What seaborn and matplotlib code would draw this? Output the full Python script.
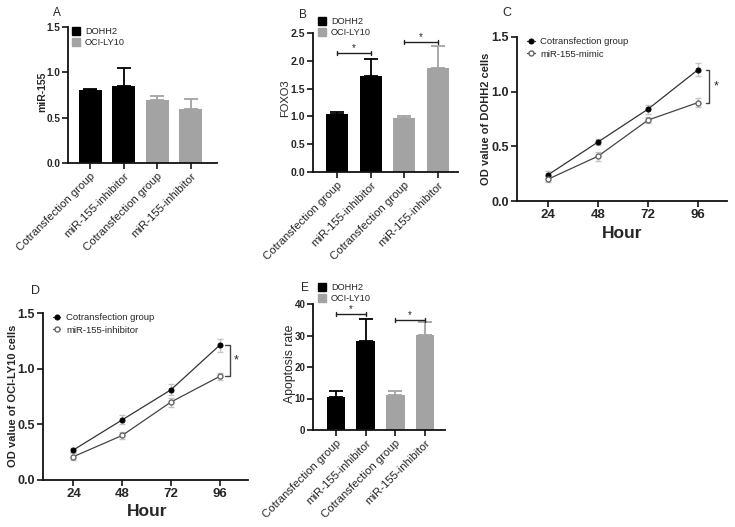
import matplotlib
matplotlib.use("Agg")
import pandas as pd
import matplotlib.pyplot as plt
import seaborn as sns
from matplotlib.patches import Patch

W, H = 735, 527

# ---- data ----
groups = ["Cotransfection group", "miR-155-inhibitor", "Cotransfection group", "miR-155-inhibitor"]
cells = ["DOHH2", "DOHH2", "OCI-LY10", "OCI-LY10"]

mir155_mean = [0.80, 0.85, 0.69, 0.60]
mir155_err = [0.02, 0.20, 0.05, 0.11]

foxo3_mean = [1.04, 1.73, 0.98, 1.87]
foxo3_err = [0.04, 0.31, 0.03, 0.39]

apop_mean = [10.5, 28.2, 11.2, 30.3]
apop_err = [1.9, 7.0, 1.1, 3.9]

hours = [24, 48, 72, 96]
c_cotrans = [0.24, 0.54, 0.84, 1.20]
c_cotrans_err = [0.03, 0.03, 0.04, 0.06]
c_mimic = [0.20, 0.41, 0.74, 0.90]
c_mimic_err = [0.03, 0.04, 0.03, 0.04]

d_cotrans = [0.27, 0.54, 0.81, 1.21]
d_cotrans_err = [0.02, 0.04, 0.05, 0.06]
d_inhib = [0.21, 0.40, 0.70, 0.93]
d_inhib_err = [0.03, 0.03, 0.04, 0.03]

BLACK = "#000000"
GRAY = "#a3a3a3"
palette = {"DOHH2": BLACK, "OCI-LY10": GRAY}

sns.set_style("ticks")
plt.rcParams["font.family"] = ["Liberation Sans", "DejaVu Sans"]
plt.rcParams["axes.linewidth"] = 1.3
plt.rcParams["xtick.major.width"] = 1.3
plt.rcParams["ytick.major.width"] = 1.3
plt.rcParams["xtick.major.size"] = 4
plt.rcParams["ytick.major.size"] = 4
plt.rcParams["axes.edgecolor"] = "#111111"

fig = plt.figure(figsize=(W / 100, H / 100), dpi=100)


def box(l, t, r, b):
    return [l / W, 1 - b / H, (r - l) / W, (b - t) / H]


def ftext(x, y, s, **kw):
    fig.text(x / W, 1 - y / H, s, **kw)


def bar_panel(ax, means, errs, ylim, yticks, fmt, width, xlim, tsize):
    df = pd.DataFrame({"slot": [f"{c} {g}" for c, g in zip(cells, groups)],
                       "value": means, "cell": cells})
    sns.barplot(data=df, x="slot", y="value", hue="cell", palette=palette,
                dodge=False, width=width, errorbar=None, saturation=1,
                linewidth=0, legend=False, ax=ax)
    for i, (m, e, c) in enumerate(zip(means, errs, cells)):
        ax.errorbar(i, m, yerr=[[0], [e]], fmt="none", ecolor=palette[c],
                    elinewidth=1.3, capsize=5, capthick=1.3, zorder=1)
    ax.set_xlim(*xlim)
    ax.set_ylim(*ylim)
    ax.set_xlabel("")
    ax.set_ylabel("")
    sns.despine(ax=ax)
    ax.set_yticks(yticks)
    ax.set_yticklabels([fmt.format(v) for v in yticks], fontsize=tsize,
                       fontweight="bold")
    ax.set_xticks(range(4))
    ax.set_xticklabels(groups, rotation=45, ha="right", rotation_mode="anchor",
                       fontsize=8.2, fontweight="normal")
    ax.tick_params(axis="both", pad=1.5)


def hbracket(ax, x1, x2, y, h):
    ax.plot([x1, x1], [y - h, y + h], color="#222222", lw=1)
    ax.plot([x2, x2], [y - h, y + h], color="#222222", lw=1)
    ax.plot([x1, x2], [y, y], color="#222222", lw=1)
    ax.text((x1 + x2) / 2, y, "*", ha="center", va="bottom", fontsize=7)


def vbracket(ax, x, y1, y2, dx):
    ax.plot([x - dx, x, x, x - dx], [y1, y1, y2, y2], color="#444444", lw=1,
            clip_on=False)
    ax.text(x + 3.2, (y1 + y2) / 2, "*", ha="center", va="center", fontsize=9)


def bar_legend(ax, x, y):
    handles = [Patch(color=BLACK, label="DOHH2"), Patch(color=GRAY, label="OCI-LY10")]
    ax.legend(handles=handles, loc="upper left", bbox_to_anchor=(x / W, 1 - y / H),
              bbox_transform=fig.transFigure, frameon=False, fontsize=6.6,
              handlelength=0.9, handleheight=0.9, handletextpad=0.5,
              labelspacing=0.25, borderaxespad=0, borderpad=0)


def line_panel(ax, s1, e1, s2, e2, name2):
    ax.errorbar(hours, s1, yerr=e1, fmt="none", ecolor="#c4c4c4", elinewidth=1,
                capsize=2.5, zorder=1)
    ax.errorbar(hours, s2, yerr=e2, fmt="none", ecolor="#c4c4c4", elinewidth=1,
                capsize=2.5, zorder=1)
    d1 = pd.DataFrame({"Hour": hours, "OD": s1})
    d2 = pd.DataFrame({"Hour": hours, "OD": s2})
    sns.lineplot(data=d1, x="Hour", y="OD", color="#333333", lw=0.9, marker="o",
                 markersize=3.6, markerfacecolor=BLACK, markeredgecolor=BLACK,
                 label="Cotransfection group", ax=ax, zorder=3)
    sns.lineplot(data=d2, x="Hour", y="OD", color="#444444", lw=0.9, marker="o",
                 markersize=3.6, markerfacecolor="white", markeredgecolor="#666666",
                 markeredgewidth=1, label=name2, ax=ax, zorder=3)
    ax.set_xlim(9, 110)
    ax.set_ylim(0, 1.5)
    ax.set_xlabel("")
    ax.set_ylabel("")
    sns.despine(ax=ax)
    ax.set_xticks(hours)
    ax.set_xticklabels([str(h) for h in hours], fontsize=9.5, fontweight="bold")
    ax.set_yticks([0, 0.5, 1.0, 1.5])
    ax.set_yticklabels(["0.0", "0.5", "1.0", "1.5"], fontsize=9, fontweight="bold")
    ax.tick_params(axis="both", pad=2)
    ax.legend(loc="upper left", bbox_to_anchor=(0.03, 1.02), frameon=False,
              fontsize=6.8, handlelength=0.8, handletextpad=0.6, labelspacing=0.35,
              borderaxespad=0)


# ---- A ----
axA = fig.add_axes(box(68, 27, 217, 163))
bar_panel(axA, mir155_mean, mir155_err, (0, 1.5), [0, 0.5, 1.0, 1.5], "{:.1f}",
          0.69, (-0.66, 3.79), 7.2)
bar_legend(axA, 72, 27)
ftext(57, 13, "A", fontsize=8.5, ha="center", va="center")
ftext(42, 92, "miR-155", fontsize=7.5, fontweight="bold", rotation=90,
      ha="center", va="center")

# ---- B ----
axB = fig.add_axes(box(313, 33, 458, 172))
bar_panel(axB, foxo3_mean, foxo3_err, (0, 2.5), [0, 0.5, 1.0, 1.5, 2.0, 2.5],
          "{:.1f}", 0.66, (-0.72, 3.6), 7.6)
hbracket(axB, 0, 1, 2.14, 0.04)
hbracket(axB, 2, 3, 2.34, 0.04)
bar_legend(axB, 318, 17)
ftext(303, 15, "B", fontsize=8.5, ha="center", va="center")
ftext(285, 98, "FOXO3", fontsize=8, rotation=90, ha="center", va="center")

# ---- C ----
axC = fig.add_axes(box(517, 37, 727, 201))
line_panel(axC, c_cotrans, c_cotrans_err, c_mimic, c_mimic_err, "miR-155-mimic")
vbracket(axC, 101.4, 1.20, 0.90, 1.5)
ftext(507, 13, "C", fontsize=9, ha="center", va="center")
ftext(486, 119, "OD value of DOHH2 cells", fontsize=8, fontweight="bold",
      rotation=90, ha="center", va="center")
ftext(622, 233, "Hour", fontsize=12.5, fontweight="bold", ha="center", va="center")

# ---- D ----
axD = fig.add_axes(box(43, 313, 248, 480))
line_panel(axD, d_cotrans, d_cotrans_err, d_inhib, d_inhib_err, "miR-155-inhibitor")
vbracket(axD, 101, 1.21, 0.93, 2.5)
ftext(35, 291, "D", fontsize=9, ha="center", va="center")
ftext(13, 396, "OD value of OCI-LY10 cells", fontsize=8, fontweight="bold",
      rotation=90, ha="center", va="center")
ftext(147, 512, "Hour", fontsize=12.5, fontweight="bold", ha="center", va="center")

# ---- E ----
axE = fig.add_axes(box(313, 304, 445, 430))
bar_panel(axE, apop_mean, apop_err, (0, 40), [0, 10, 20, 30, 40], "{:.0f}",
          0.63, (-0.77, 3.67), 7.0)
hbracket(axE, 0, 1, 36.8, 0.7)
hbracket(axE, 2, 3, 34.9, 0.7)
bar_legend(axE, 318, 283)
ftext(305, 288, "E", fontsize=8.5, ha="center", va="center")
ftext(290, 364, "Apoptosis rate", fontsize=8.8, rotation=90, ha="center", va="center")

fig.savefig("out.png", dpi=100)
